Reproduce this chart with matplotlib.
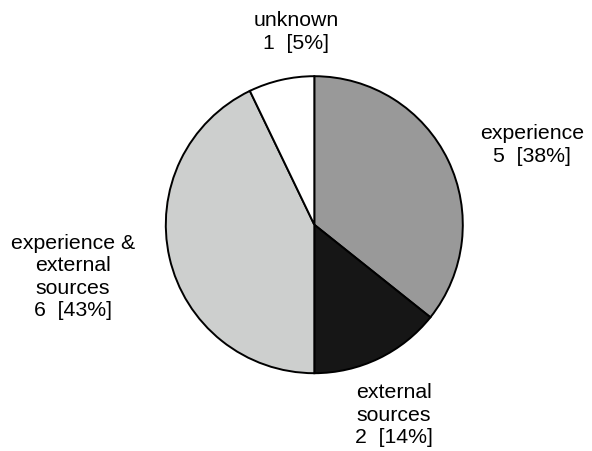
import matplotlib.pyplot as plt

# knowledge source counts
sources = ['experience', 'external\nsources', 'experience &\nexternal\nsources', 'unknown']
counts = [5, 2, 6, 1]
shares = [38, 14, 43, 5]
colors = ['#999999', '#161616', '#cdcfce', '#ffffff']

plt.rcParams['font.family'] = ['Liberation Sans', 'DejaVu Sans']

fig = plt.figure(figsize=(5.92, 4.52), dpi=100)
ax = fig.add_axes([0, 0, 1, 1])

ax.pie(counts, colors=colors, startangle=90, counterclock=False,
       wedgeprops=dict(edgecolor='black', linewidth=1.4))

# label spots, in units of the pie radius
label_xy = [(1.466, 0.543), (0.537, -1.275), (-1.625, -0.345), (-0.123, 1.304)]
for name, n, p, (x, y) in zip(sources, counts, shares, label_xy):
  ax.text(x, y, '%s\n%d  [%d%%]' % (name, n, p), ha='center', va='center',
          fontsize=15.3, linespacing=1.22)

r = 148.5
ax.set_aspect('auto')
ax.set_xlim(-314.3/r, (592-314.3)/r)
ax.set_ylim(-(452-225.7)/r, 225.7/r)
ax.axis('off')

fig.savefig('out.png', dpi=100)
